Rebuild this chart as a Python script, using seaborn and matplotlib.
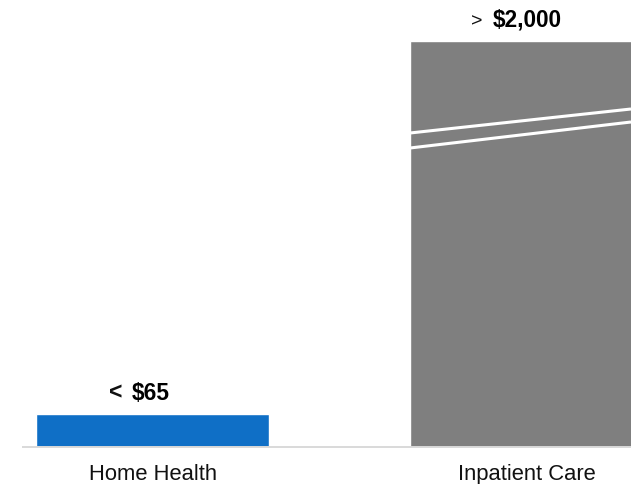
import numpy as np
import pandas as pd
import matplotlib
matplotlib.use("Agg")
import matplotlib.pyplot as plt
import seaborn as sns

# Cost per day by care setting
categories = ["Home Health", "Inpatient Care"]
values = [65, 2000]
prefixes = ["<", ">"]
colors = ["#0F6FC6", "#7F7F7F"]

sns.set_theme(style="white")
plt.rcParams["font.family"] = ["Liberation Sans", "DejaVu Sans"]

# Broken value axis: linear up to BREAK, compressed above it
BREAK = 614.0
LOW_RATE = 33.0 / 65.0
HIGH_RATE = (406.0 - BREAK * LOW_RATE) / (2000.0 - BREAK)
F_BREAK = BREAK * LOW_RATE


def forward(y):
    y = np.asarray(y, dtype=float)
    return np.where(y <= BREAK, y * LOW_RATE, F_BREAK + (y - BREAK) * HIGH_RATE)


def inverse(f):
    f = np.asarray(f, dtype=float)
    return np.where(f <= F_BREAK, f / LOW_RATE, BREAK + (f - F_BREAK) / HIGH_RATE)


df = pd.DataFrame({"setting": categories, "cost": values})

fig = plt.figure(figsize=(6.31, 4.84), dpi=100)
ax = fig.add_axes([23 / 631, 37 / 484, 608 / 631, 447 / 484])
ax.set_yscale("function", functions=(forward, inverse))

sns.barplot(data=df, x="setting", y="cost", hue="setting", palette=colors,
            dodge=False, legend=False, width=0.623, saturation=1, ax=ax)

ax.set_xlim(-0.3463, 1.2794)
ax.set_ylim(0, float(inverse(447.0)))

# Axis styling
for side in ["top", "right", "left"]:
    ax.spines[side].set_visible(False)
ax.spines["bottom"].set_color("#D9D9D9")
ax.spines["bottom"].set_linewidth(1.4)
ax.set_yticks([])
ax.set_xlabel("")
ax.set_ylabel("")
ax.tick_params(axis="x", length=0, pad=12, labelsize=15.8, labelcolor="#111111")

# Value labels: comparison sign followed by bold amount
sign_offsets = [-26.5, -35.6]
sign_rise = [15, 13.5]
sign_sizes = [16.5, 14]
sign_weights = ["bold", "normal"]
amount_offsets = [-15.2, -24.4]
for i, (v, p) in enumerate(zip(values, prefixes)):
    ax.annotate(p, xy=(i, v), xytext=(sign_offsets[i], sign_rise[i]), textcoords="offset points",
                ha="center", va="center", fontsize=sign_sizes[i],
                fontweight=sign_weights[i], color="#111111")
    ax.annotate(f"${v:,}", xy=(i, v), xytext=(amount_offsets[i], 15), textcoords="offset points",
                ha="left", va="center", fontsize=16.3, fontweight="bold", color="#000000")

# Break marks across the tall bar
x0 = (410 - 23) / 608
ax.plot([x0, 1.0], [(447 - 133) / 447, (447 - 109) / 447], transform=ax.transAxes,
        color="white", lw=2.2, clip_on=False, solid_capstyle="butt")
ax.plot([x0, 1.0], [(447 - 148) / 447, (447 - 122) / 447], transform=ax.transAxes,
        color="white", lw=2.2, clip_on=False, solid_capstyle="butt")

fig.savefig("out.png", dpi=100)
